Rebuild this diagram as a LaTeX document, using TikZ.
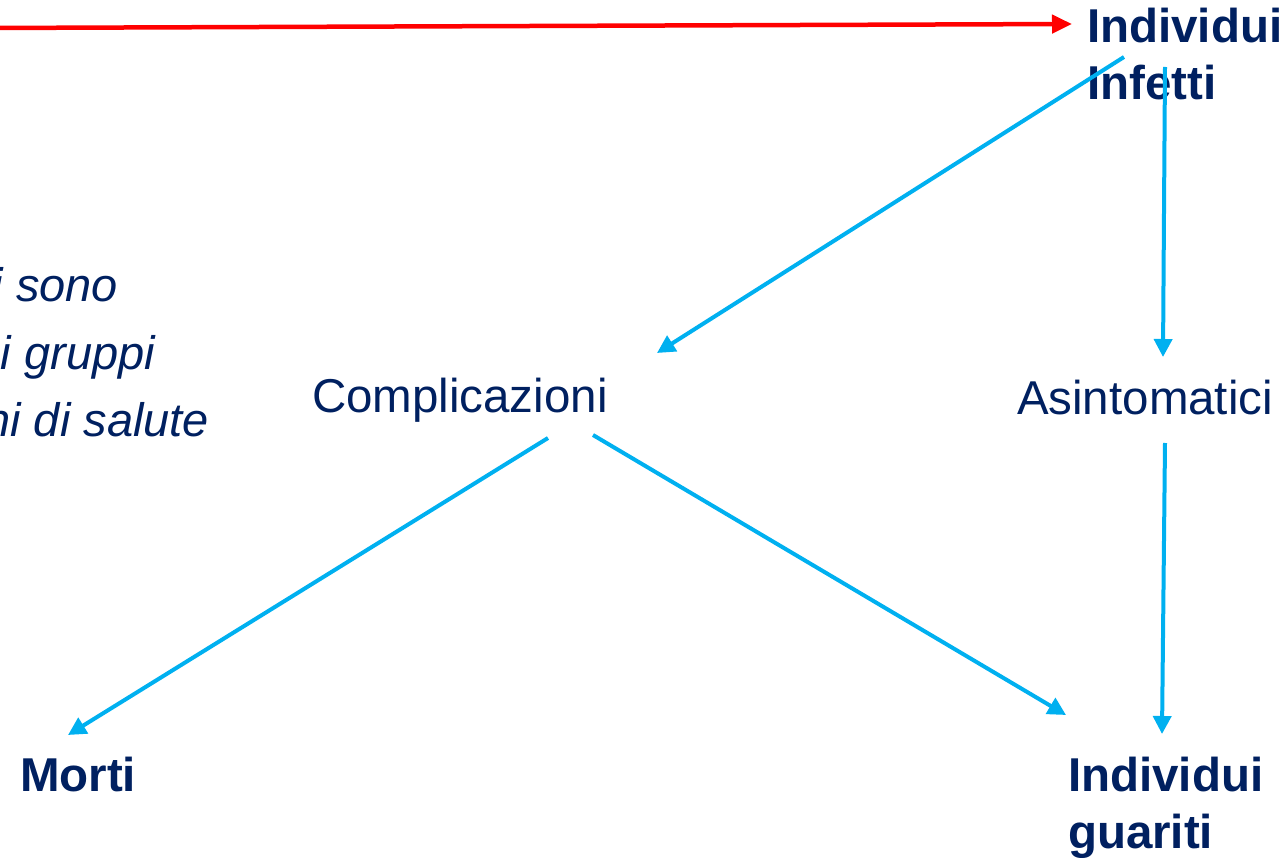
\documentclass[tikz,border=0pt]{standalone}
\usepackage{fontspec}
\setmainfont{Liberation Sans}
\usetikzlibrary{arrows.meta}
\definecolor{navy}{HTML}{002060}
\definecolor{sky}{HTML}{00B0F0}
\definecolor{redline}{HTML}{FF0000}
\tikzset{
  lbl/.style={inner sep=0pt, outer sep=0pt, text=navy, anchor=base west, font=\fontsize{47.5pt}{57pt}\selectfont},
  blbl/.style={lbl, font=\fontsize{47.5pt}{57pt}\selectfont\bfseries, align=left},
  itl/.style={inner sep=0pt, outer sep=0pt, text=navy, anchor=base east, font=\fontsize{47pt}{56pt}\selectfont\itshape},
  flow/.style={draw=sky, line width=4pt, -{Triangle[length=18pt,width=18pt]}},
  redflow/.style={draw=redline, line width=4.5pt, -{Triangle[length=20pt,width=18pt]}}
}
\begin{document}
\begin{tikzpicture}[x=1pt,y=-1pt]
\useasboundingbox (0,0) rectangle (1283,858);
% text (base anchor of a two-line node is its last line)
\node[blbl] (infetti) at (1087,100) {Individui\\Infetti};
\node[lbl] (compl) at (312,413) {Complicazioni};
\node[lbl] (asint) at (1017,415) {Asintomatici};
\node[blbl] (morti) at (20,791) {Morti};
\node[blbl] (guariti) at (1068,848) {Individui\\guariti};
\node[itl] (t1) at (118,302) {i sono};
\node[itl] (t2) at (155,370) {i gruppi};
\node[itl] (t3) at (209,437) {ni di salute};
% connector end points
\coordinate (rs) at (-10,28);
\coordinate (re) at (1072,24);
\coordinate (ic) at (1124,57);
\coordinate (ct) at (657,353);
\coordinate (ia) at (1165,67);
\coordinate (at) at (1163,357);
\coordinate (cm) at (548,438);
\coordinate (mt) at (68,735);
\coordinate (cg) at (593,435);
\coordinate (gt) at (1066,715);
\coordinate (ag) at (1165,443);
\coordinate (gt2) at (1162,734);
% connectors
\draw[redflow] (rs) -- (re);
\draw[flow] (ic) -- (ct);
\draw[flow] (ia) -- (at);
\draw[flow] (cm) -- (mt);
\draw[flow] (cg) -- (gt);
\draw[flow] (ag) -- (gt2);
\end{tikzpicture}
\end{document}
